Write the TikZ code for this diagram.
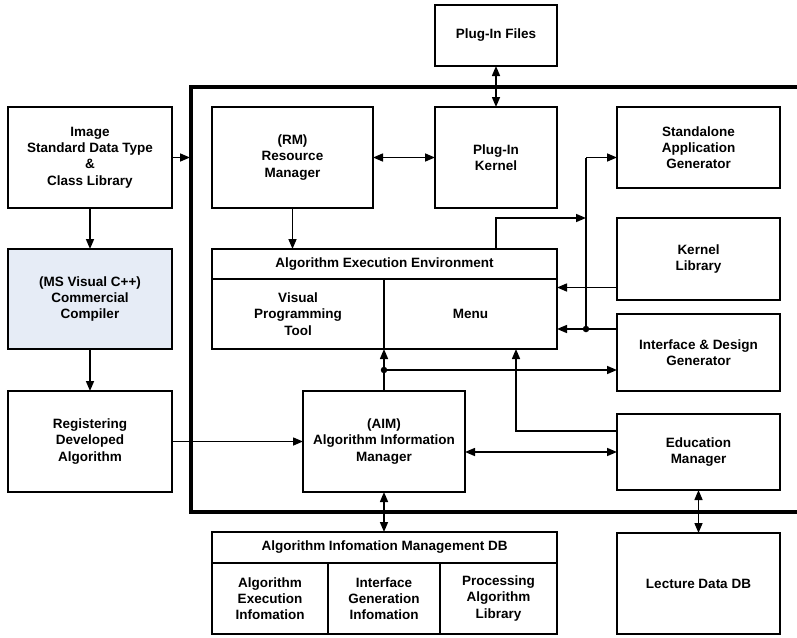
\documentclass[tikz,border=0pt]{standalone}
\usepackage{fontspec}
\setmainfont{Liberation Sans}
\usetikzlibrary{arrows.meta}
\definecolor{compfill}{HTML}{E6ECF6}
\tikzset{
  box/.style={draw, line width=1.5pt, inner sep=0pt, outer sep=0pt, align=center,
    font=\fontsize{13.5}{16.3}\selectfont\bfseries},
  tip/.tip={Triangle[length=10pt,width=8pt]},
  arr/.style={line width=1.5pt, -tip},
  darr/.style={line width=1.5pt, tip-tip},
  frame/.style={line width=3.8pt},
  dot/.style={circle, fill, inner sep=0pt, minimum size=6.5pt},
}
\begin{document}
\begin{tikzpicture}[x=1pt,y=-1pt]
\useasboundingbox (0,0) rectangle (797,637);

% system boundary (open on the right)
\draw[frame] (800,87) -- (191,87) -- (191,512) -- (800,512);

% left column
\node[box, minimum width=164pt, minimum height=101pt] (img) at (90,157.5) {Image\\Standard Data Type\\\&\\Class Library};
\node[box, fill=compfill, minimum width=164pt, minimum height=100pt] (cc) at (90,299) {(MS Visual C++)\\Commercial\\Compiler};
\node[box, minimum width=164pt, minimum height=101pt] (reg) at (90,441.5) {Registering\\Developed\\Algorithm};

% core modules
\node[box, minimum width=161pt, minimum height=101pt] (rm) at (292.5,157.5) {(RM)\\Resource\\Manager};
\node[box, minimum width=122pt, minimum height=61pt] (pf) at (496,35.5) {Plug-In Files};
\node[box, minimum width=122pt, minimum height=101pt] (pk) at (496,157.5) {Plug-In\\Kernel};

\node[box, minimum width=345pt, minimum height=30pt] (aeeh) at (384.5,264) {Algorithm Execution Environment};
\node[box, minimum width=172pt, minimum height=70pt] (vpt) at (298,314) {Visual\\Programming\\Tool};
\node[box, minimum width=173pt, minimum height=70pt] (menu) at (470.5,314) {Menu};

\node[box, minimum width=162pt, minimum height=101pt] (aim) at (384,441.5) {(AIM)\\Algorithm Information\\Manager};

% right column
\node[box, minimum width=163pt, minimum height=81pt] (sag) at (698.5,147.5) {Standalone\\Application\\Generator};
\node[box, minimum width=163pt, minimum height=82pt] (kl) at (698.5,259) {Kernel\\Library};
\node[box, minimum width=163pt, minimum height=77pt] (idg) at (698.5,352.5) {Interface \& Design\\Generator};
\node[box, minimum width=163pt, minimum height=76pt] (em) at (698.5,452) {Education\\Manager};
\node[box, minimum width=163pt, minimum height=101pt] (ldb) at (698.5,583.5) {Lecture Data DB};

% database block
\node[box, minimum width=345pt, minimum height=31pt] (dbh) at (384.5,547.5) {Algorithm Infomation Management DB};
\node[box, minimum width=116pt, minimum height=71pt] (aei) at (270,598.5) {Algorithm\\Execution\\Infomation};
\node[box, minimum width=112pt, minimum height=71pt] (igi) at (384,598.5) {Interface\\Generation\\Infomation};
\node[box, minimum width=117pt, minimum height=71pt] (pal) at (498.5,598.5) {Processing\\Algorithm\\Library};

% junction points and connector ends
\coordinate (fl) at (190,157.5);
\coordinate (j1) at (586,329);
\coordinate (t1) at (586,218);
\coordinate (j2) at (384,370);
\coordinate (klo) at (617,287.5);
\coordinate (emo) at (617,431);
\coordinate (mb) at (516,349);

% left column flow
\draw[arr] (img.east) -- (fl);
\draw[arr] (img.south) -- (cc.north);
\draw[arr] (cc.south) -- (reg.north);
\draw[arr] (reg.east) -- (aim.west);

% resource manager and plug-ins
\draw[darr] (rm.east) -- (pk.west);
\draw[darr] (pf.south) -- (pk.north);
\draw[arr] (rm.south) -- (rm.south |- aeeh.north);

% execution environment to the generator trunk
\draw[arr] (aeeh.north -| pk) |- (t1);
\draw[line width=1.5pt] (j1) -- (j1 |- pk.east);
\draw[arr] (j1 |- pk.east) -- (sag.west |- pk.east);
\draw[arr] (idg.west |- j1) -- (menu.east |- j1);
\node[dot] at (j1) {};
\draw[arr] (klo) -- (klo -| menu.east);

% AIM links
\draw[arr] (aim.north) -- (aim.north |- menu.south);
\node[dot] at (j2) {};
\draw[arr] (j2) -- (j2 -| idg.west);
\draw[darr] (aim.east |- em.west) -- (em.west);
\draw[darr] (aim.south) -- (aim.south |- dbh.north);

% education manager
\draw[arr] (emo) -| (mb);
\draw[darr] (em.south) -- (ldb.north);
\end{tikzpicture}
\end{document}
